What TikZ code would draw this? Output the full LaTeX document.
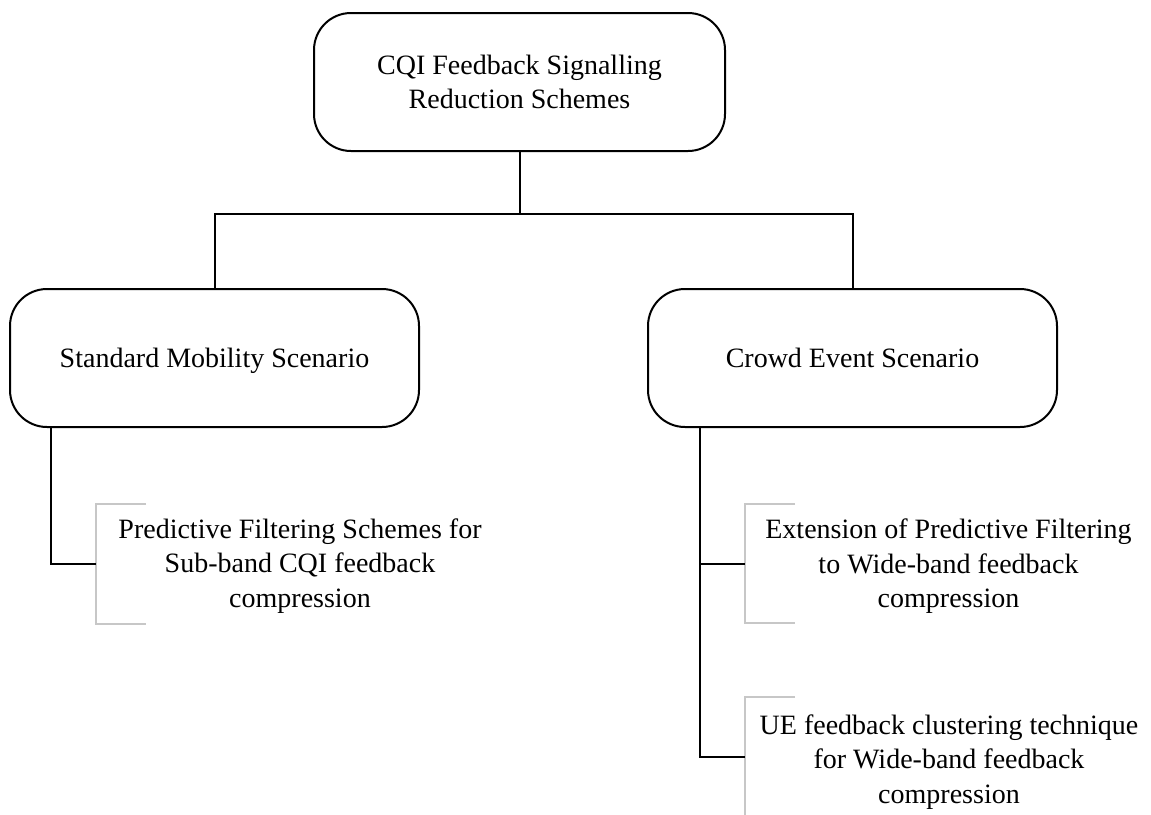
\documentclass[tikz,border=0pt]{standalone}
\usepackage{fontspec}
\setmainfont{Liberation Serif}
\begin{document}
\begin{tikzpicture}[x=1pt, y=-1pt,
  txt/.style={font=\fontsize{28}{34.5}\selectfont, align=center, inner sep=0pt},
  roundbox/.style={txt, draw=black, line width=2pt, rounded corners=37pt,
    minimum height=138pt},
  oneline/.style={text height=24pt, text depth=6pt},
  wire/.style={draw=black, line width=2pt},
  bracket/.style={draw=black!22, line width=1.6pt}
]
\clip (0,0) rectangle (1151,814);
\fill[white] (0,0) rectangle (1151,814);

% tree nodes
\node[roundbox, minimum width=411pt] (root) at (519.5,82)
  {CQI Feedback Signalling\\Reduction Schemes};
\node[roundbox, oneline, minimum width=409pt] (std) at (214.5,358)
  {Standard Mobility Scenario};
\node[roundbox, oneline, minimum width=409pt] (crowd) at (852.5,358)
  {Crowd Event Scenario};

% leaf texts
\node[txt] (pf) at (300,566)
  {Predictive Filtering Schemes for\\Sub-band CQI feedback\\compression};
\node[txt] (ext) at (948.5,566.5)
  {Extension of Predictive Filtering\\to Wide-band feedback\\compression};
\node[txt] (ue) at (949,762)
  {UE feedback clustering technique\\for Wide-band feedback\\compression};

% bracket junctions
\coordinate (bus) at (519.5,214);
\coordinate (stdstem) at (51,427);
\coordinate (crowdstem) at (700,427);
\coordinate (pfj) at (96,563.5);
\coordinate (extj) at (745,563.5);
\coordinate (uej) at (745,757);

% gray brackets beside the leaf texts
\draw[bracket] ([xshift=50pt]pfj |- 0,504) -| (pfj |- 0,624) -- ++(50,0);
\draw[bracket] ([xshift=50pt]extj |- 0,504) -| (extj |- 0,623) -- ++(50,0);
\draw[bracket] ([xshift=50pt]uej |- 0,697) -| (uej |- 0,817) -- ++(50,0);

% connectors
\draw[wire] (root.south) -- (bus);
\draw[wire] (std.north) |- (bus) -| (crowd.north);
\draw[wire] (stdstem) |- (pfj);
\draw[wire] (crowdstem) |- (uej);
\draw[wire] (crowdstem |- extj) -- (extj);
\end{tikzpicture}
\end{document}
